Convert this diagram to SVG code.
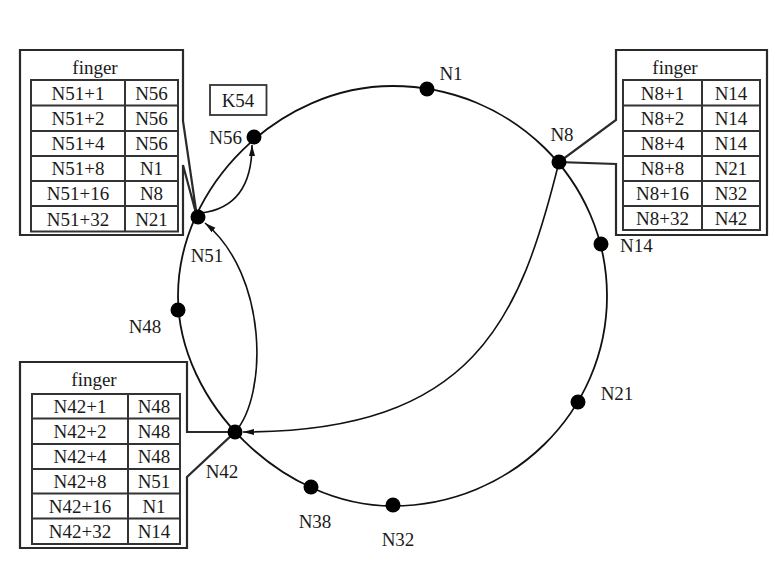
<svg xmlns="http://www.w3.org/2000/svg" width="782" height="566" viewBox="0 0 782 566">
<defs>
<style>
.t{font-family:"Liberation Serif","Times New Roman",serif;font-size:19px;fill:#1a1a1a;text-anchor:middle}
.lbl{font-family:"Liberation Serif","Times New Roman",serif;font-size:19px;fill:#1a1a1a}
.box{fill:#fff;stroke:#2a2a2a;stroke-width:2.2}
.tb{fill:none;stroke:#333;stroke-width:2}
.ring{fill:none;stroke:#111;stroke-width:1.8}
.arc{fill:none;stroke:#111;stroke-width:1.6}
.dot{fill:#000}
</style>
<marker id="ah" markerUnits="userSpaceOnUse" markerWidth="12" markerHeight="8" refX="11" refY="3" orient="auto">
<path d="M0,0 L11,3 L0,6 z" fill="#111"/>
</marker>
</defs>
<rect width="782" height="566" fill="#fff"/>

<g id="ftable-n51">
<path class="box" d="M20,50 H183 V121 L197,217 L183,165 V235 H20 Z"/>
<text class="t" x="95" y="74">finger</text>
<rect class="tb" x="31" y="80" width="147" height="151.5"/>
<path class="tb" d="M125,80 V231.5 M31,105.5 H178 M31,131 H178 M31,156 H178 M31,181 H178 M31,206 H178"/>
<text class="t" x="78" y="99.5">N51+1</text><text class="t" x="151.5" y="99.5">N56</text>
<text class="t" x="78" y="125">N51+2</text><text class="t" x="151.5" y="125">N56</text>
<text class="t" x="78" y="150">N51+4</text><text class="t" x="151.5" y="150">N56</text>
<text class="t" x="78" y="175">N51+8</text><text class="t" x="151.5" y="175">N1</text>
<text class="t" x="78" y="200">N51+16</text><text class="t" x="151.5" y="200">N8</text>
<text class="t" x="78" y="225.5">N51+32</text><text class="t" x="151.5" y="225.5">N21</text>
</g>

<g id="ftable-n8">
<path class="box" d="M616,50 H767 V235 H616 V164 L559,162 L616,120 Z"/>
<text class="t" x="675" y="74">finger</text>
<rect class="tb" x="623" y="80" width="137" height="150"/>
<path class="tb" d="M702,80 V230 M623,105.5 H760 M623,131 H760 M623,156 H760 M623,181 H760 M623,206 H760"/>
<text class="t" x="662.5" y="99.5">N8+1</text><text class="t" x="731" y="99.5">N14</text>
<text class="t" x="662.5" y="125">N8+2</text><text class="t" x="731" y="125">N14</text>
<text class="t" x="662.5" y="150">N8+4</text><text class="t" x="731" y="150">N14</text>
<text class="t" x="662.5" y="175">N8+8</text><text class="t" x="731" y="175">N21</text>
<text class="t" x="662.5" y="200">N8+16</text><text class="t" x="731" y="200">N32</text>
<text class="t" x="662.5" y="224.5">N8+32</text><text class="t" x="731" y="224.5">N42</text>
</g>

<g id="ftable-n42">
<path class="box" d="M20,362 H187 V432 L235,432 L187,477 V548 H20 Z"/>
<text class="t" x="94" y="386">finger</text>
<rect class="tb" x="32" y="394" width="148" height="150"/>
<path class="tb" d="M128,394 V544 M32,418.5 H180 M32,444 H180 M32,469 H180 M32,493.5 H180 M32,518.5 H180"/>
<text class="t" x="80" y="412.5">N42+1</text><text class="t" x="154" y="412.5">N48</text>
<text class="t" x="80" y="437.5">N42+2</text><text class="t" x="154" y="437.5">N48</text>
<text class="t" x="80" y="463">N42+4</text><text class="t" x="154" y="463">N48</text>
<text class="t" x="80" y="487.5">N42+8</text><text class="t" x="154" y="487.5">N51</text>
<text class="t" x="80" y="512.5">N42+16</text><text class="t" x="154" y="512.5">N1</text>
<text class="t" x="80" y="537.5">N42+32</text><text class="t" x="154" y="537.5">N14</text>
</g>

<g id="k54">
<rect x="210" y="85" width="56.5" height="30" fill="#fff" stroke="#333" stroke-width="1.8"/>
<text class="t" x="238" y="106.5">K54</text>
</g>

<g id="connectors">
<path id="ring" class="ring" d="M392.5,86 C511,86 607,180 607,296 C607,412 511,506 392.5,506 C283.1,506 178,403.1 178,296 C178,185.75 279.9,86 392.5,86 Z"/>
<path id="e-n51-n56" class="arc" marker-end="url(#ah)" d="M201,213 Q252,207 252,145"/>
<path id="e-n42-n51" class="arc" marker-end="url(#ah)" d="M235,432 C268,395 268,275 205,223"/>
<path id="e-n8-n42" class="arc" marker-end="url(#ah)" d="M559,162 C520,320 474,432 243,432"/>
</g>

<g id="n1"><circle class="dot" cx="427" cy="89" r="7.5"/><text class="t" x="451" y="80">N1</text></g>
<g id="n8"><circle class="dot" cx="559" cy="162" r="7.5"/><text class="t" x="562" y="141">N8</text></g>
<g id="n14"><circle class="dot" cx="601" cy="244" r="7.5"/><text class="lbl" x="620" y="252">N14</text></g>
<g id="n21"><circle class="dot" cx="578" cy="402" r="7.5"/><text class="t" x="617" y="400">N21</text></g>
<g id="n32"><circle class="dot" cx="393" cy="505" r="7.5"/><text class="t" x="398" y="546">N32</text></g>
<g id="n38"><circle class="dot" cx="311" cy="487" r="7.5"/><text class="t" x="315" y="528">N38</text></g>
<g id="n42"><circle class="dot" cx="235" cy="432" r="7.5"/><text class="t" x="222" y="478">N42</text></g>
<g id="n48"><circle class="dot" cx="178" cy="310" r="7.5"/><text class="t" x="145" y="333">N48</text></g>
<g id="n51"><circle class="dot" cx="198" cy="217" r="7.5"/><text class="t" x="207" y="261.5">N51</text></g>
<g id="n56"><circle class="dot" cx="254" cy="137" r="7.5"/><text class="lbl" x="242" y="143.5" text-anchor="end">N56</text></g>
</svg>
